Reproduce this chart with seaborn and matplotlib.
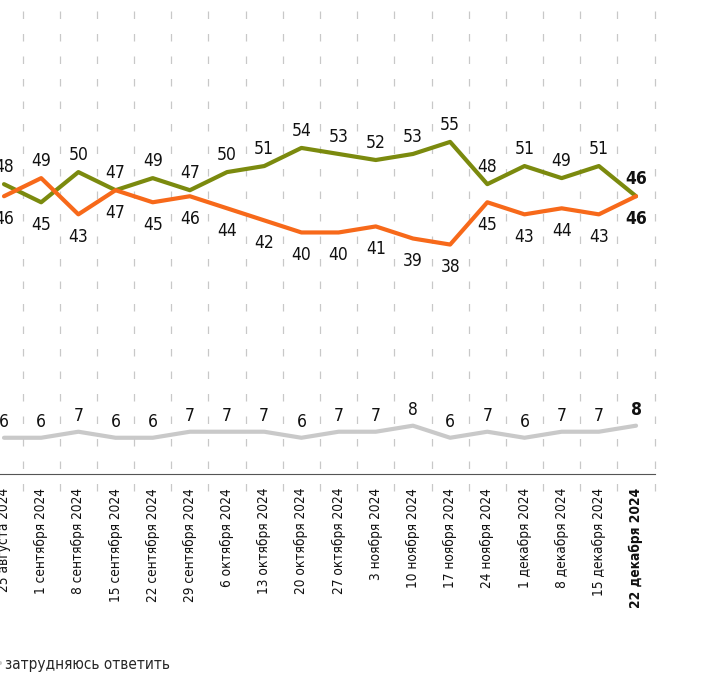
import numpy as np
import pandas as pd
import seaborn as sns
import matplotlib.pyplot as plt
from matplotlib.lines import Line2D

sns.set_theme(style="white")
plt.rcParams["font.family"] = ["DejaVu Sans"]
plt.rcParams["font.stretch"] = "condensed"

# --- data ---
dates = ["25 августа 2024", "1 сентября 2024", "8 сентября 2024", "15 сентября 2024",
         "22 сентября 2024", "29 сентября 2024", "6 октября 2024", "13 октября 2024",
         "20 октября 2024", "27 октября 2024", "3 ноября 2024", "10 ноября 2024",
         "17 ноября 2024", "24 ноября 2024", "1 декабря 2024", "8 декабря 2024",
         "15 декабря 2024", "22 декабря 2024"]
series_a = [48, 45, 50, 47, 49, 47, 50, 51, 54, 53, 52, 53, 55, 48, 51, 49, 51, 46]   # green
series_b = [46, 49, 43, 47, 45, 46, 44, 42, 40, 40, 41, 39, 38, 45, 43, 44, 43, 46]   # orange
unsure = [6, 6, 7, 6, 6, 7, 7, 7, 6, 7, 7, 8, 6, 7, 6, 7, 7, 8]
unsure_label = "затрудняюсь ответить"

green = "#7b8a0e"
orange = "#f7691a"
grey = "#c9c9c9"

n = len(dates)
x = np.arange(n)
df = pd.DataFrame({
    "x": np.tile(x, 3),
    "value": series_a + series_b + unsure,
    "series": ["a"] * n + ["b"] * n + ["c"] * n,
})

fig = plt.figure(figsize=(7.28, 6.99), dpi=100)
ax = fig.add_axes([0, 0.3219, 0.8992, 0.6781])

sns.lineplot(data=df, x="x", y="value", hue="series", hue_order=["c", "a", "b"],
             palette={"a": green, "b": orange, "c": grey}, linewidth=3,
             legend=False, ax=ax)

# dashed separators between weeks
ax.vlines(x + 0.5, -0.035, 1, transform=ax.get_xaxis_transform(), clip_on=False,
          colors="#c8c8c8", linewidth=0.9, linestyles=(0, (6, 12)), zorder=0)

ax.set_xlim(-0.1076, n - 0.5)
ax.set_ylim(0, 78.5)
ax.set_xlabel("")
ax.set_ylabel("")
ax.set_yticks([])
ax.set_xticks(x)
ax.set_xticklabels(dates, rotation=90, va="top", ha="center", fontsize=9.8)
ax.tick_params(axis="x", length=0, pad=10, colors="#111111")
ax.get_xticklabels()[-1].set_fontweight("bold")

for s in ["top", "left", "right"]:
    ax.spines[s].set_visible(False)
ax.spines["bottom"].set_color("#555555")
ax.spines["bottom"].set_linewidth(0.8)

# value labels
for i in x:
    last = i == n - 1
    w = "bold" if last else "normal"
    a_up = series_a[i] >= series_b[i]
    for val, up in [(series_a[i], a_up), (series_b[i], not a_up)]:
        ax.annotate(str(val), (i, val), xytext=(0, 6 if up else -10),
                    textcoords="offset points", ha="center",
                    va="bottom" if up else "top", fontsize=12.5,
                    fontweight=w, color="#111111")
    ax.annotate(str(unsure[i]), (i, unsure[i]), xytext=(0, 5),
                textcoords="offset points", ha="center", va="bottom",
                fontsize=12.5, fontweight=w, color="#111111")

handles = [Line2D([], [], color=grey, linewidth=3)]
fig.legend(handles, [unsure_label], loc="center left", bbox_to_anchor=(-0.021, 0.05),
           frameon=False, handlelength=1.0, handletextpad=0.35, borderpad=0,
           borderaxespad=0, fontsize=11)

fig.savefig("out.png", dpi=100)
